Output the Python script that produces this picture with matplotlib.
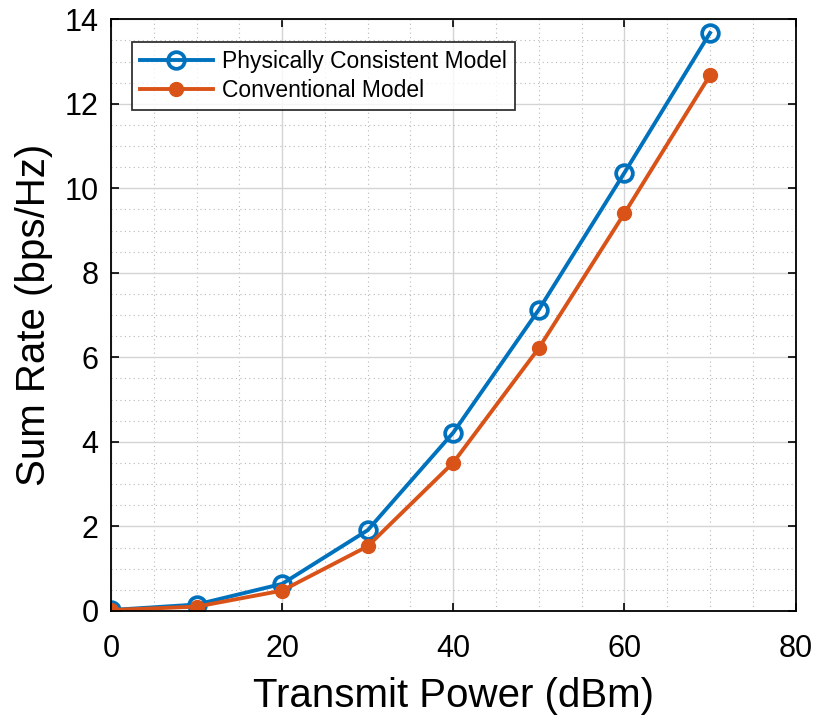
import matplotlib.pyplot as plt
from matplotlib.ticker import MultipleLocator

power = [0, 10, 20, 30, 40, 50, 60, 70]
rate_consistent = [0.02, 0.15, 0.64, 1.91, 4.22, 7.13, 10.37, 13.68]
rate_conventional = [0.02, 0.10, 0.48, 1.53, 3.51, 6.22, 9.41, 12.68]

plt.rcParams['font.family'] = ['Liberation Sans', 'DejaVu Sans']

fig = plt.figure(figsize=(8.16, 7.17), dpi=100)
ax = fig.add_axes([0.136, 0.148, 0.839, 0.825])

ax.plot(power, rate_consistent, color='#0072BD', linewidth=2.8, marker='o',
        markersize=12, markerfacecolor='none', markeredgewidth=2.7,
        label='Physically Consistent Model')
ax.plot(power, rate_conventional, color='#D95319', linewidth=2.8, marker='o',
        markersize=10, markerfacecolor='#D95319', markeredgecolor='#D95319',
        label='Conventional Model')

ax.set_xlim(0, 80)
ax.set_ylim(0, 14)
ax.xaxis.set_major_locator(MultipleLocator(20))
ax.xaxis.set_minor_locator(MultipleLocator(5))
ax.yaxis.set_major_locator(MultipleLocator(2))
ax.yaxis.set_minor_locator(MultipleLocator(0.5))

ax.grid(which='major', color='#d4d4d4', linewidth=1.0, linestyle='-')
ax.grid(which='minor', color='#b8b8b8', linewidth=0.8, linestyle=(0, (1, 3)))
ax.set_axisbelow(True)

ax.tick_params(which='both', direction='in', top=True, right=True, labelsize=22)
ax.tick_params(axis='x', which='major', pad=17)
ax.tick_params(axis='y', which='major', pad=9)
ax.tick_params(which='major', length=6, width=1.2)
ax.tick_params(which='minor', length=0)
for s in ax.spines.values():
    s.set_linewidth(1.3)

ax.set_xlabel('Transmit Power (dBm)', fontsize=29, labelpad=9)
ax.set_ylabel('Sum Rate (bps/Hz)', fontsize=29, labelpad=8)

leg = ax.legend(loc='upper left', bbox_to_anchor=(0.03, 0.962),
                fontsize=16.5, frameon=True, fancybox=False, edgecolor='black',
                handlelength=3.2, borderpad=0.35, labelspacing=0.25,
                handletextpad=0.4, borderaxespad=0)
leg.get_frame().set_linewidth(1.3)

fig.savefig('out.png', dpi=100)
